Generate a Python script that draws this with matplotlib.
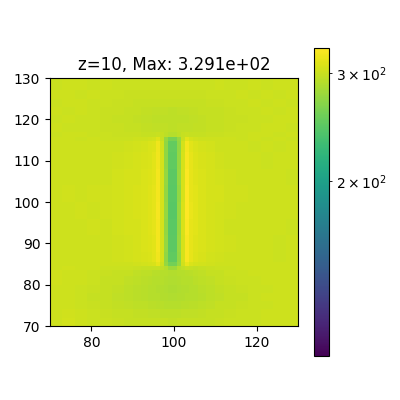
import matplotlib
matplotlib.use("Agg")
import numpy as np
import matplotlib.pyplot as plt
from matplotlib.colors import LogNorm

title = "z=10, Max: 3.291e+02"
vmin_value = 104.0
vmax_value = 329.1
x_edges = [70,73,76,79,82,85,88,90,92,93.6,94.6,95.6,96.6,97.6,98.6,100.7,101.7,102.7,103.7,104.7,105.7,107.7,110,112,115,118,121,124,127,130]
y_edges = [70,72,74,76,78,80,82,83.5,84.5,85.5,88,92,96,100,104,108,112,114.8,115.8,117,119,121,123,125,127,130]
field = [
 [302,304,301,300,300, 299,298,298,298,297, 297,297,297,297,296, 297,297,297,297,298, 298,298,299,300,300, 300,301,301,302],
 [301,303,301,300,299, 298,297,296,296,295, 295,295,294,294,294, 294,295,295,295,295, 296,297,298,299,300, 300,301,301,301],
 [302,302,300,299,298, 296,295,294,293,292, 292,291,291,290,290, 290,291,291,292,292, 293,295,297,298,299, 300,300,301,302],
 [301,301,300,298,297, 295,293,292,291,290, 289,289,288,288,287, 288,288,289,289,290, 291,293,295,297,298, 300,301,301,302],
 [302,302,300,299,297, 296,294,292,291,290, 289,288,288,287,286, 287,288,288,289,290, 292,294,296,298,299, 300,300,302,301],
 [303,302,301,300,298, 297,295,293,292,291, 290,289,289,288,287, 288,289,289,290,292, 293,295,297,299,300, 300,301,301,302],
 [303,302,301,300,299, 298,297,295,294,293, 291,291,290,289,288, 289,290,291,292,293, 295,297,298,300,300, 301,301,302,301],
 [302,303,301,301,300, 300,300,299,298,297, 297,298,295,289,278, 289,295,299,297,296, 297,299,300,300,301, 301,302,301,302],
 [302,302,302,301,301, 301,302,303,304,305, 307,315,301,274,258, 274,303,317,309,306, 304,303,302,301,301, 301,301,302,301],
 [301,302,301,301,302, 303,304,305,307,309, 312,321,305,272,248, 272,306,325,315,310, 307,304,303,302,302, 301,301,300,301],
 [302,301,302,301,302, 303,304,306,308,310, 313,322,305,274,246, 274,306,326,316,311, 308,305,304,303,302, 301,302,300,301],
 [301,302,301,303,302, 304,305,306,309,311, 314,323,306,273,245, 273,307,327,316,312, 308,305,304,302,302, 302,301,301,300],
 [302,302,303,302,303, 304,305,307,309,311, 314,324,306,274,244, 274,307,328,317,312, 309,306,304,303,302, 301,301,302,301],
 [301,303,302,303,303, 304,305,307,309,311, 314,323,306,273,245, 272,306,328,316,312, 308,306,305,303,303, 302,301,301,301],
 [302,301,302,302,302, 304,305,306,308,310, 313,323,305,274,246, 274,306,327,316,311, 308,306,304,303,302, 301,302,301,300],
 [301,301,302,301,302, 303,304,305,307,309, 312,321,305,272,248, 273,305,326,315,310, 307,305,303,302,301, 301,300,301,301],
 [301,302,301,301,301, 302,303,304,306,308, 310,319,304,272,250, 272,304,323,312,308, 306,304,302,301,302, 300,301,300,301],
 [301,301,300,301,300, 300,300,301,302,303, 304,311,299,274,260, 274,299,313,306,303, 302,301,301,301,300, 301,300,301,300],
 [300,301,301,300,300, 299,299,299,298,298, 298,299,297,294,289, 294,297,299,298,298, 298,299,299,300,300, 301,301,300,301],
 [301,300,300,300,299, 299,298,297,296,296, 295,295,295,295,294, 295,295,295,295,296, 296,297,298,299,300, 300,301,301,300],
 [300,301,300,300,299, 298,297,296,295,295, 294,294,294,294,294, 294,294,294,295,295, 296,297,298,299,299, 300,300,301,301],
 [301,300,301,300,299, 299,298,297,296,296, 295,295,295,295,294, 295,295,295,296,296, 297,298,298,299,300, 300,301,300,301],
 [300,301,301,300,300, 299,299,298,298,298, 297,297,297,297,297, 297,297,298,298,298, 298,299,299,300,300, 301,300,301,300],
 [301,301,300,301,300, 300,299,299,299,299, 299,299,299,299,299, 299,299,299,299,299, 299,300,300,300,301, 300,301,300,301],
 [300,301,301,300,301, 300,300,300,300,300, 300,300,300,300,300, 300,300,300,300,300, 300,300,301,300,300, 301,300,301,301],
]

fig, ax = plt.subplots(figsize=(4, 4), dpi=100)
mesh = ax.pcolormesh(x_edges, y_edges, np.array(field, dtype=float), cmap="viridis",
                     norm=LogNorm(vmin=vmin_value, vmax=vmax_value))
ax.set_aspect("equal")
ax.set_xlim(70, 130)
ax.set_ylim(70, 130)
ax.set_xticks([80, 100, 120])
ax.set_yticks([70, 80, 90, 100, 110, 120, 130])
ax.set_title(title)
fig.colorbar(mesh, ax=ax)
fig.savefig("out.png", dpi=100)
